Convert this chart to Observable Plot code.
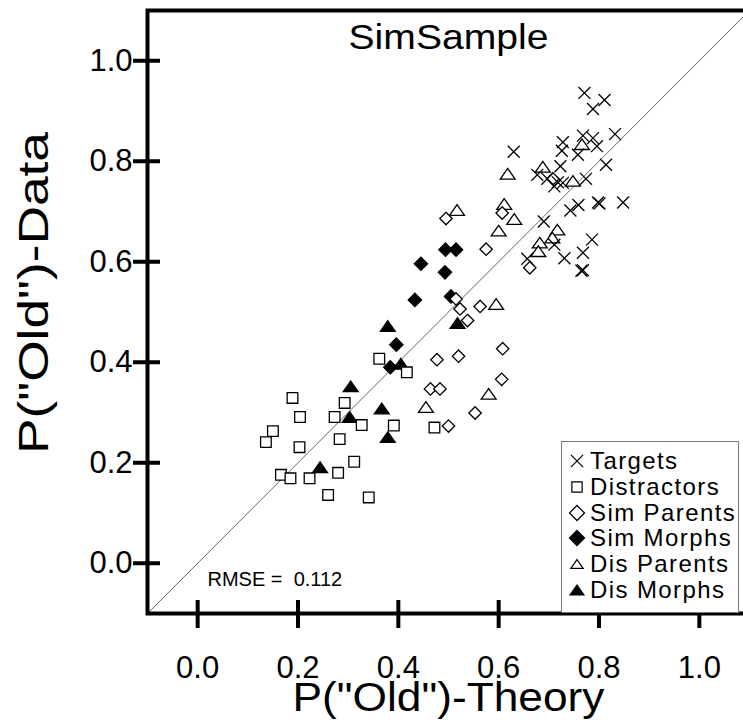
<!DOCTYPE html>
<html><head><meta charset="utf-8">
<script src="https://cdn.jsdelivr.net/npm/d3@7"></script>
<script src="https://cdn.jsdelivr.net/npm/@observablehq/plot@0.6"></script>
<style>
body{margin:0;background:#fff;font-family:"Liberation Sans",Arial,sans-serif;}
#wrap{position:relative;width:743px;height:727px;overflow:hidden;}
#legend{position:absolute;left:561px;top:441px;width:178px;height:172px;border:1px solid #777;background:#fff;box-sizing:border-box;}
.row{position:absolute;left:0;height:26px;display:flex;align-items:center;font-size:24px;letter-spacing:1.4px;color:#000;white-space:nowrap;}
.row svg{width:30px;height:26px;flex:none;}
</style></head><body><div id="wrap"></div>
<script>
const title = "SimSample";
const xLabel = 'P("Old")-Theory';
const yLabel = 'P("Old")-Data';
const rmseLabel = "RMSE = \u00a00.112";
const xTicks = [0.0, 0.2, 0.4, 0.6, 0.8, 1.0];
const yTicks = [0.0, 0.2, 0.4, 0.6, 0.8, 1.0];
const domain = [-0.1, 1.1];
const categories = ["Targets", "Distractors", "Sim Parents", "Sim Morphs", "Dis Parents", "Dis Morphs"];

const targets = [[0.771,0.936],[0.811,0.922],[0.788,0.904],[0.832,0.854],[0.768,0.851],[0.788,0.846],[0.728,0.838],[0.726,0.821],[0.796,0.830],[0.758,0.813],[0.630,0.819],[0.814,0.793],[0.723,0.790],[0.677,0.773],[0.697,0.765],[0.718,0.758],[0.711,0.750],[0.728,0.757],[0.774,0.765],[0.759,0.713],[0.743,0.702],[0.798,0.718],[0.801,0.716],[0.848,0.718],[0.690,0.680],[0.786,0.644],[0.711,0.634],[0.768,0.618],[0.731,0.607],[0.657,0.606],[0.768,0.583],[0.765,0.582]];
const distractors = [[0.189,0.329],[0.204,0.291],[0.273,0.291],[0.293,0.319],[0.327,0.275],[0.362,0.407],[0.150,0.263],[0.136,0.241],[0.203,0.231],[0.283,0.247],[0.312,0.202],[0.280,0.180],[0.166,0.176],[0.185,0.169],[0.223,0.169],[0.260,0.136],[0.341,0.131],[0.391,0.274],[0.417,0.380],[0.472,0.270]];
const simParents = [[0.495,0.686],[0.607,0.697],[0.575,0.625],[0.662,0.588],[0.515,0.526],[0.523,0.506],[0.563,0.511],[0.538,0.483],[0.608,0.427],[0.477,0.405],[0.520,0.412],[0.606,0.366],[0.464,0.347],[0.483,0.347],[0.553,0.299],[0.500,0.273],[0.708,0.765]];
const simMorphs = [[0.494,0.624],[0.515,0.624],[0.445,0.596],[0.493,0.579],[0.433,0.524],[0.505,0.531],[0.396,0.435],[0.384,0.390]];
const disParents = [[0.517,0.703],[0.611,0.715],[0.631,0.685],[0.600,0.662],[0.682,0.638],[0.679,0.621],[0.717,0.664],[0.707,0.648],[0.595,0.516],[0.580,0.337],[0.455,0.311],[0.766,0.834],[0.688,0.789],[0.618,0.775],[0.748,0.761]];
const disMorphs = [[0.379,0.472],[0.518,0.478],[0.405,0.397],[0.305,0.352],[0.303,0.291],[0.367,0.308],[0.379,0.251],[0.244,0.191]];

const seriesData = [targets, distractors, simParents, simMorphs, disParents, disMorphs];

const flatTri = {draw(ctx, size){ const s = Math.sqrt(size); ctx.moveTo(0,-0.5*s); ctx.lineTo(0.7*s,0.5*s); ctx.lineTo(-0.7*s,0.5*s); ctx.closePath(); }};
const styles = [
  {symbol:"times", fill:"none", r:5.5, lr:5.6},
  {symbol:"square", fill:"white", r:6, lr:5.8},
  {symbol:"diamond2", fill:"white", r:5.6, lr:6.8},
  {symbol:"diamond2", fill:"black", r:6, lr:6.8},
  {symbol:flatTri, fill:"white", r:6, lr:5},
  {symbol:flatTri, fill:"black", r:6, lr:5.6}
];
const drawOrder = [3, 5, 4, 2, 1, 0];

const dotMarks = drawOrder.map(i => Plot.dot(seriesData[i], {
  x: d => d[0], y: d => d[1], symbol: styles[i].symbol, r: styles[i].r,
  fill: styles[i].fill, stroke: "black", strokeWidth: 1.3
}));

const chart = Plot.plot({
  width: 743, height: 727,
  marginLeft: 147, marginRight: -6, marginTop: 10, marginBottom: 114,
  x: {domain, label: null},
  y: {domain, label: null},
  style: {fontFamily: '"Liberation Sans", Arial, sans-serif', color: "black", background: "white"},
  marks: [
    Plot.line(domain.map(v => [v, v]), {x: d => d[0], y: d => d[1], stroke: "#666", strokeWidth: 1}),
    ...dotMarks,
    Plot.frame({stroke: "black", strokeWidth: 4}),
    Plot.axisX({ticks: xTicks, tickSize: 28, dy: -13, strokeWidth: 4, tickFormat: () => "", label: null}),
    Plot.axisX({ticks: xTicks, tickSize: 0, tickPadding: 42, fontSize: 31, tickFormat: d3.format(".1f"), label: null}),
    Plot.axisY({ticks: yTicks, tickSize: 27, dx: 13, strokeWidth: 4, tickFormat: () => "", label: null}),
    Plot.axisY({ticks: yTicks, tickSize: 0, tickPadding: 15, fontSize: 31, tickFormat: d3.format(".1f"), label: null}),
    Plot.text([title], {frameAnchor: "top", lineAnchor: "bottom", dy: 38, fontSize: 35, className: "ttl"}),
    Plot.text([rmseLabel], {frameAnchor: "bottom-left", textAnchor: "start", lineAnchor: "bottom", dx: 60, dy: -28, fontSize: 20}),
    Plot.text([xLabel], {frameAnchor: "bottom", lineAnchor: "bottom", dy: 97, fontSize: 41, className: "xttl"}),
    Plot.text([yLabel], {frameAnchor: "left", textAnchor: "middle", rotate: -90, lineAnchor: "bottom", dx: -100, dy: -19, fontSize: 42, className: "yttl"})
  ]
});
const wrap = document.getElementById("wrap");
wrap.appendChild(chart);
const fit = (cls, len) => chart.querySelectorAll(`.${cls} text`).forEach(t => { t.setAttribute("textLength", len); t.setAttribute("lengthAdjust", "spacingAndGlyphs"); });
fit("ttl", 200);
fit("xttl", 312);
fit("yttl", 322);

const legend = document.createElement("div");
legend.id = "legend";
categories.forEach((c, i) => {
  const row = document.createElement("div");
  row.className = "row";
  row.style.top = (6 + i * 25.8) + "px";
  const st = styles[i];
  const path = d3.symbol(typeof st.symbol === "string" ? {times: d3.symbolTimes, square: d3.symbolSquare, diamond2: d3.symbolDiamond2}[st.symbol] : st.symbol, Math.PI * st.lr * st.lr)();
  row.innerHTML = `<svg viewBox="-15 -13 30 26"><path d="${path}" fill="${st.fill}" stroke="black" stroke-width="1.2"></path></svg><span style="margin-left:-2px">${c}</span>`;
  legend.appendChild(row);
});
wrap.appendChild(legend);
</script></body></html>
